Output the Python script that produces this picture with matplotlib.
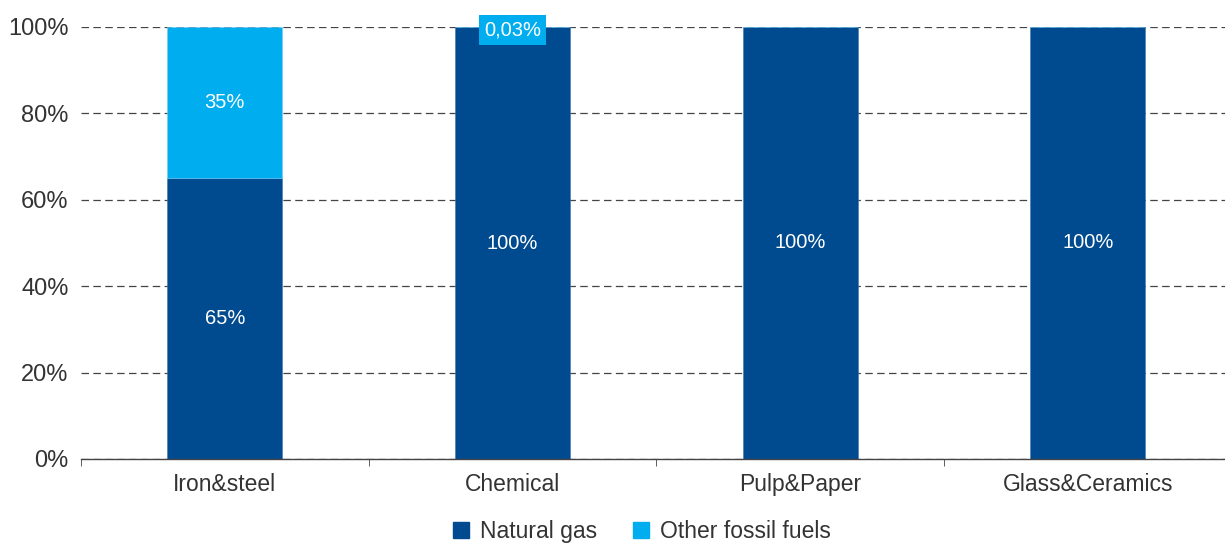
import numpy as np
import matplotlib.pyplot as plt
from matplotlib.patches import Patch

plt.rcParams['font.family'] = ['Liberation Sans', 'DejaVu Sans']

sectors = ['Iron&steel', 'Chemical', 'Pulp&Paper', 'Glass&Ceramics']
natural_gas = [65, 99.97, 100, 100]
other_fossil = [35, 0.03, 0, 0]
gas_labels = ['65%', '100%', '100%', '100%']
other_labels = ['35%', '0,03%', '', '']

dark = '#004a8f'
light = '#00adef'
txt = '#333333'

fig = plt.figure(figsize=(12.25, 5.43), dpi=100)
ax = fig.add_axes([0.0661, 0.1547, 0.9347, 0.7956])

x = np.arange(len(sectors))
w = 0.4
ax.bar(x, natural_gas, w, color=dark, edgecolor='#3f78b5', linewidth=0.4, zorder=3)
ax.bar(x, other_fossil, w, bottom=natural_gas, color=light,
       edgecolor='#6fcdf5', linewidth=0.4, zorder=3)

for i in range(len(sectors)):
    ax.text(x[i], natural_gas[i] / 2, gas_labels[i], ha='center', va='center',
            color='white', fontsize=14.5, zorder=4)
    if other_labels[i]:
        if other_fossil[i] > 5:
            ax.text(x[i], natural_gas[i] + other_fossil[i] / 2, other_labels[i],
                    ha='center', va='center', color='white', fontsize=14.5, zorder=4)
        else:
            ax.text(x[i], 99.3, other_labels[i], ha='center', va='center',
                    color='white', fontsize=14.5, zorder=5,
                    bbox=dict(boxstyle='square,pad=0.25', fc=light, ec='none'))

ax.set_xlim(-0.5, 3.48)
ax.set_ylim(0, 100)
ax.set_yticks(range(0, 101, 20))
ax.set_yticklabels([f'{v}%' for v in range(0, 101, 20)])
ax.yaxis.grid(True, linestyle=(0, (6, 3.5)), color='#444444', linewidth=0.9, zorder=0)
ax.tick_params(axis='y', length=0, labelsize=17, labelcolor=txt, pad=9)

ax.set_xticks(x)
ax.set_xticklabels(sectors)
ax.set_xticks(np.arange(-0.5, 3.5, 1), minor=True)
ax.tick_params(axis='x', which='major', length=0, labelsize=16.5, labelcolor=txt, pad=10)
ax.tick_params(axis='x', which='minor', length=5, color='#444444', direction='out')

for s in ['left', 'right', 'top']:
    ax.spines[s].set_visible(False)
ax.spines['bottom'].set_color('#444444')
ax.spines['bottom'].set_linewidth(1)
ax.spines['bottom'].set_zorder(4)

handles = [Patch(color=dark, label='Natural gas'), Patch(color=light, label='Other fossil fuels')]
fig.legend(handles=handles, loc='center', bbox_to_anchor=(0.524, 0.022), ncol=2,
           frameon=False, fontsize=16.5, handlelength=0.7, handleheight=0.7,
           handletextpad=0.45, columnspacing=1.6, labelcolor=txt)

fig.savefig('out.png', dpi=100)
